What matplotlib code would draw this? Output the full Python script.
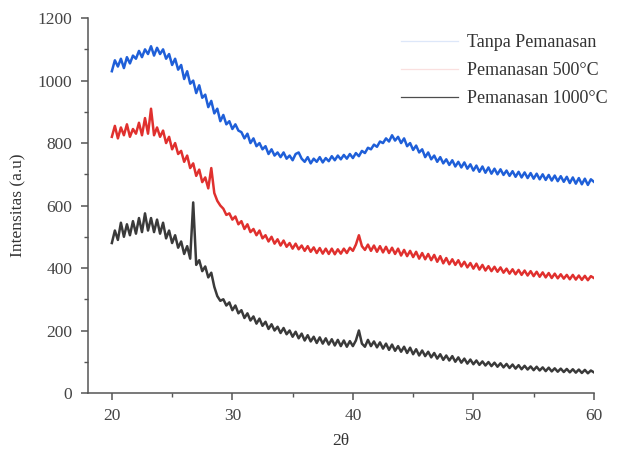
import numpy as np
import matplotlib
matplotlib.use("Agg")
import matplotlib.pyplot as plt

plt.rcParams['font.family'] = ['Liberation Serif', 'DejaVu Serif']

# 2theta from 20 to 60 in 0.25 steps
two_theta = np.arange(20, 60.001, 0.25)

tanpa = [
    1030, 1065, 1045, 1070, 1040, 1075, 1055, 1080,
    1070, 1095, 1075, 1100, 1085, 1110, 1080, 1105,
    1085, 1100, 1070, 1085, 1050, 1070, 1035, 1050,
    1005, 1030, 990, 1000, 960, 985, 945, 955,
    915, 935, 895, 910, 870, 890, 860, 870,
    845, 860, 840, 835, 815, 830, 800, 815,
    790, 800, 780, 790, 765, 780, 760, 770,
    755, 770, 750, 760, 745, 765, 770, 750,
    740, 755, 735, 750, 740, 755, 738, 752,
    742, 758, 745, 760, 748, 762, 750, 765,
    752, 768, 758, 775, 768, 785, 780, 795,
    788, 805, 800, 815, 805, 825, 808, 820,
    800, 815, 790, 800, 778, 792, 770, 780,
    755, 770, 748, 760, 740, 755, 735, 748,
    730, 745, 725, 740, 722, 738, 718, 732,
    712, 728, 708, 725, 705, 722, 702, 718,
    700, 716, 698, 712, 695, 710, 692, 708,
    690, 706, 688, 704, 686, 702, 684, 700,
    682, 698, 680, 696, 678, 694, 676, 692,
    672, 690, 670, 688, 668, 686, 666, 684,
    676,
]

pemanasan_500 = [
    820, 855, 815, 850, 825, 860, 820, 845,
    830, 865, 825, 880, 830, 910, 825, 850,
    820, 840, 800, 820, 780, 800, 765, 775,
    740, 760, 720, 735, 695, 715, 675, 690,
    655, 720, 640, 615, 600, 590, 570, 575,
    555, 565, 540, 550, 525, 540, 515, 525,
    505, 520, 495, 505, 485, 500, 478, 492,
    472, 488, 468, 480, 462, 478, 460, 472,
    455, 470, 452, 466, 448, 464, 446, 462,
    445, 462, 444, 460, 446, 462, 448, 465,
    455, 475, 505, 470, 458, 475, 455, 472,
    452, 470, 450, 468, 448, 465, 445, 462,
    440, 458, 438, 455, 435, 452, 430, 448,
    428, 445, 425, 442, 420, 438, 415, 432,
    412, 428, 410, 425, 405, 420, 402, 416,
    398, 414, 395, 410, 392, 406, 390, 404,
    388, 402, 385, 398, 382, 396, 380, 394,
    378, 392, 376, 390, 374, 388, 372, 386,
    370, 384, 368, 382, 367, 380, 366, 378,
    364, 378, 363, 376, 362, 375, 361, 374,
    368,
]

pemanasan_1000 = [
    480, 520, 490, 545, 500, 540, 505, 550,
    510, 560, 515, 575, 520, 560, 515, 555,
    510, 545, 495, 520, 480, 505, 465, 485,
    445, 470, 430, 610, 410, 425, 390, 405,
    370, 385, 340, 310, 295, 300, 280, 290,
    265, 280, 255, 265, 240, 255, 232, 245,
    222, 238, 215, 228, 205, 220, 200, 212,
    192, 208, 188, 200, 180, 196, 175, 190,
    168, 185, 165, 180, 160, 178, 158, 175,
    155, 172, 152, 170, 150, 168, 148, 166,
    150, 168, 200, 158, 148, 170, 150, 165,
    146, 162, 142, 158, 138, 155, 135, 150,
    132, 148, 128, 145, 124, 140, 120, 136,
    118, 132, 114, 128, 110, 124, 106, 120,
    104, 118, 100, 114, 97, 110, 94, 107,
    92, 104, 90, 101, 88, 99, 86, 97,
    84, 95, 82, 93, 80, 91, 78, 89,
    76, 87, 75, 85, 73, 84, 72, 82,
    70, 81, 69, 79, 68, 78, 67, 77,
    66, 76, 65, 75, 64, 74, 63, 72,
    66,
]

labels = ['Tanpa Pemanasan', 'Pemanasan 500°C', 'Pemanasan 1000°C']
colors = ['#1f5fd8', '#e0302e', '#3a3a3a']

fig = plt.figure(figsize=(6.18, 4.53), dpi=100)
ax = fig.add_axes([0.142, 0.1325, 0.819, 0.8275])

for ys, lab, c in zip([tanpa, pemanasan_500, pemanasan_1000], labels, colors):
    ax.plot(two_theta, ys, color=c, linewidth=1.8, label=lab)

ax.set_xlim(18, 60)
ax.set_ylim(0, 1200)
ax.set_xticks([20, 30, 40, 50, 60])
ax.set_xticks([25, 35, 45, 55], minor=True)
ax.set_yticks(range(0, 1201, 200))
ax.set_yticks(range(100, 1200, 200), minor=True)
for s in ['top', 'right']:
    ax.spines[s].set_visible(False)
for s in ['left', 'bottom']:
    ax.spines[s].set_color('#555555')
    ax.spines[s].set_linewidth(1.1)
ax.tick_params(which='major', direction='out', length=5, width=1.1, colors='#555555',
               labelsize=12.5, labelcolor='#444444', pad=6)
ax.tick_params(which='minor', direction='out', length=3, width=1.0, colors='#555555')
ax.set_xlabel('2θ', fontsize=12.5, color='#333333', labelpad=6)
ax.set_ylabel('Intensitas (a.u)', fontsize=12.5, color='#333333', labelpad=8)

leg = ax.legend(loc='upper right', frameon=False, fontsize=13, handlelength=3.2,
                handletextpad=0.5, bbox_to_anchor=(1.06, 1.0), labelspacing=0.6)
for t in leg.get_texts():
    t.set_color('#333333')
for line, a in zip(leg.get_lines(), [0.15, 0.15, 0.9]):
    line.set_linewidth(0.9)
    line.set_alpha(a)

fig.savefig('out.png', dpi=100)
